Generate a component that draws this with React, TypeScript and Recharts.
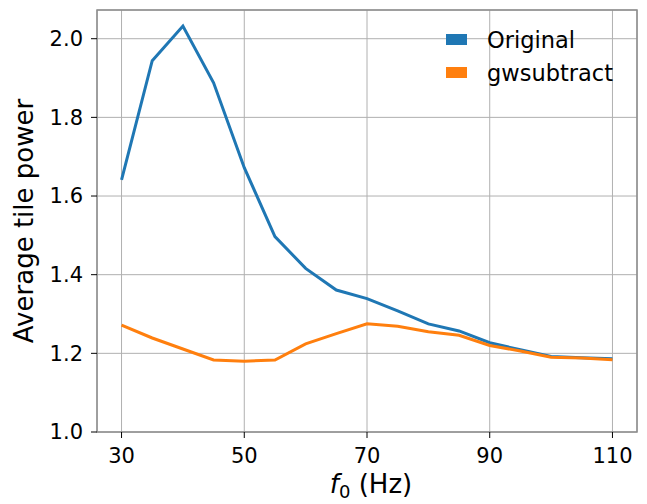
import React from 'react';
import { LineChart, Line, XAxis, YAxis, CartesianGrid, ReferenceArea } from 'recharts';

const frequencies = [30, 35, 40, 45, 50, 55, 60, 65, 70, 75, 80, 85, 90, 95, 100, 105, 110];
const originalPower = [1.641, 1.944, 2.032, 1.888, 1.672, 1.497, 1.416, 1.361, 1.339, 1.308, 1.275, 1.257, 1.227, 1.209, 1.192, 1.189, 1.186];
const subtractedPower = [1.272, 1.239, 1.211, 1.183, 1.180, 1.183, 1.224, 1.250, 1.275, 1.269, 1.255, 1.246, 1.220, 1.206, 1.190, 1.188, 1.184];
const xTicks = [30, 50, 70, 90, 110];
const yTicks = [1.0, 1.2, 1.4, 1.6, 1.8, 2.0];
const seriesNames = ['Original', 'gwsubtract'];

const BLUE = '#1f77b4';
const ORANGE = '#ff7f0e';
const FONT = '"DejaVu Sans", sans-serif';

const data = frequencies.map((f, i) => ({
  f,
  original: originalPower[i],
  gwsubtract: subtractedPower[i],
}));

// legend sits over the plot, so keep it out of recharts' layout
const LegendBox = () => (
  <div style={{ position: 'absolute', left: 446, top: 23, fontFamily: FONT, fontSize: 22.5, color: '#000' }}>
    {seriesNames.map((name, i) => (
      <div key={name} style={{ display: 'flex', alignItems: 'center', height: 33 }}>
        <span style={{ display: 'inline-block', width: 21, height: 11, background: i === 0 ? BLUE : ORANGE, marginRight: 20 }} />
        <span>{name}</span>
      </div>
    ))}
  </div>
);

const App: React.FC = () => {
  return (
    <div style={{ position: 'absolute', left: 0, top: 0, width: 647, height: 504 }}>
      <LineChart width={647} height={504} data={data} margin={{ top: 10, right: 10, left: 0, bottom: 0 }}>
        <CartesianGrid stroke="#b0b0b0" strokeWidth={1} />
        <XAxis
          dataKey="f"
          type="number"
          domain={[26, 114]}
          ticks={xTicks}
          height={72}
          tickSize={6}
          tickMargin={10}
          tick={{ fill: '#000', fontSize: 21, fontFamily: FONT }}
          tickLine={{ stroke: '#000' }}
          axisLine={false}
          label={(props: any) => {
            const vb = props.viewBox;
            return (
              <text x={vb.x + vb.width / 2 + 4} y={vb.y + 61} textAnchor="middle" fontFamily={FONT} fontSize={26} fill="#000">
                <tspan fontStyle="italic">f</tspan>
                <tspan fontSize={18} dy={5}>0</tspan>
                <tspan dy={-5}> (Hz)</tspan>
              </text>
            );
          }}
        />
        <YAxis
          type="number"
          domain={[1.0, 2.073]}
          ticks={yTicks}
          width={97}
          tickSize={6}
          tickMargin={8}
          tickFormatter={(v: number) => v.toFixed(1)}
          tick={{ fill: '#000', fontSize: 21, fontFamily: FONT }}
          tickLine={{ stroke: '#000' }}
          axisLine={false}
          allowDataOverflow
          label={(props: any) => {
            const vb = props.viewBox;
            const cy = vb.y + vb.height / 2;
            return (
              <text x={33} y={cy} transform={`rotate(-90, 33, ${cy})`} textAnchor="middle" fontFamily={FONT} fontSize={26} fill="#000">
                Average tile power
              </text>
            );
          }}
        />
        <ReferenceArea x1={26} x2={114} y1={1.0} y2={2.073} fill="none" stroke="#8c8c8c" strokeWidth={1.5} ifOverflow="visible" />
        <Line type="linear" dataKey="original" name={seriesNames[0]} stroke={BLUE} strokeWidth={3} dot={false} isAnimationActive={false} />
        <Line type="linear" dataKey="gwsubtract" name={seriesNames[1]} stroke={ORANGE} strokeWidth={3} dot={false} isAnimationActive={false} />
      </LineChart>
      <LegendBox />
    </div>
  );
};

export default App;
